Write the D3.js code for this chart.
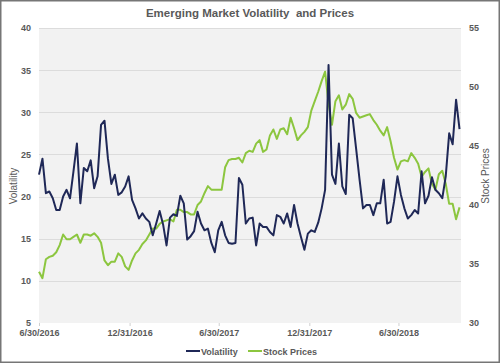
<!DOCTYPE html>
<html><head><meta charset="utf-8">
<script src="https://cdn.jsdelivr.net/npm/d3@7"></script>
<style>
body{margin:0;background:#fff;}
svg{display:block;font-family:"Liberation Sans",Arial,sans-serif;}
</style></head>
<body><svg id="chart" width="500" height="363"></svg>
<script>
const title = "Emerging Market Volatility  and Prices";
const seriesNames = ["Volatility", "Stock Prices"];
const startDate = "2016-06-30";
const endDate = "2018-11-04";
const xTickLabels = ["6/30/2016", "12/31/2016", "6/30/2017", "12/31/2017", "6/30/2018"];
const leftTicks = [5, 10, 15, 20, 25, 30, 35, 40];
const rightTicks = [30, 35, 40, 45, 50, 55];
// weekly observations starting 6/30/2016
const volatility = [
22.6,24.5,20.4,20.6,19.8,18.4,18.4,20.0,20.8,19.8,23.0,26.3,19.2,23.4,23.0,24.3,21.0,22.4,28.5,29.0,
24.5,21.5,22.6,20.2,20.5,21.2,22.4,19.6,18.6,17.4,18.0,17.4,17.0,15.4,16.8,18.3,16.7,14.2,17.5,17.9,
17.7,20.1,19.2,14.9,15.3,15.9,18.2,16.8,16.0,16.2,14.5,13.4,16.0,17.0,15.4,14.5,14.4,14.5,22.2,21.4,
16.8,17.4,17.5,14.2,16.8,16.4,16.4,15.8,15.4,17.8,17.6,16.8,18.0,16.4,19.0,16.8,15.2,13.7,15.6,16.0,
15.8,16.9,18.6,20.8,35.6,22.6,21.5,26.3,21.2,20.3,29.7,29.3,25.7,22.0,18.6,19.0,19.0,17.8,19.2,19.2,
22.0,16.8,17.0,19.4,22.4,20.2,18.6,17.4,17.8,18.4,18.0,23.0,19.2,20.1,22.3,20.8,20.4,19.8,22.4,27.5,
26.2,31.5,28.0];
const stockPrices = [
34.35,33.8,35.4,35.6,35.7,36.0,36.6,37.5,37.1,37.1,37.3,37.5,36.8,37.5,37.5,37.4,37.6,37.3,36.8,35.3,
34.9,35.2,35.2,35.9,35.6,34.8,34.5,35.3,35.9,36.2,36.7,37.0,37.5,38.0,38.0,38.4,38.6,38.7,38.8,38.6,
39.6,39.6,39.4,39.4,39.2,39.2,40.0,40.3,41.0,41.6,41.3,41.3,41.3,41.3,43.2,43.8,43.9,43.9,44.0,43.6,
44.4,44.6,44.5,45.2,45.5,44.5,44.7,45.9,46.4,45.6,46.4,46.5,46.0,47.4,46.5,45.5,45.9,46.2,46.6,48.0,
48.8,49.6,50.5,51.3,48.6,46.8,48.8,49.3,48.1,48.5,49.4,49.0,47.8,47.4,47.5,47.6,47.7,47.2,46.8,46.3,
45.9,46.6,45.4,44.0,43.0,43.7,43.8,43.7,44.4,44.0,43.5,42.4,42.8,43.1,41.8,41.3,42.6,42.9,41.8,40.1,
40.1,38.8,39.8];

const parse = d3.timeParse("%Y-%m-%d");
const parseTick = d3.timeParse("%m/%d/%Y");
const t0 = parse(startDate);
const dates = volatility.map((_, i) => d3.timeDay.offset(t0, 7 * i));

const svg = d3.select("#chart");
const W = 500, H = 363;
const m = {l: 39, r: 39, t: 28, b: 40};
const iw = W - m.l - m.r, ih = H - m.t - m.b;
const textCol = "#595959";
const volCol = "#1f2857", stkCol = "#8cc63f";

svg.append("rect").attr("x", 0.75).attr("y", 0.75).attr("width", W - 1.5).attr("height", H - 1.5)
  .attr("fill", "#fff").attr("stroke", "#767676").attr("stroke-width", 1.5);

const x = d3.scaleTime().domain([t0, parse(endDate)]).range([m.l, m.l + iw]);
const yL = d3.scaleLinear().domain([5, 40]).range([m.t + ih, m.t]);
const yR = d3.scaleLinear().domain([30, 55]).range([m.t + ih, m.t]);

svg.append("rect").attr("x", m.l).attr("y", m.t).attr("width", iw).attr("height", ih).attr("fill", "#f2f2f2");

// gridlines
svg.append("g").selectAll("line").data(leftTicks.slice(1)).join("line")
  .attr("x1", m.l).attr("x2", m.l + iw)
  .attr("y1", d => Math.round(yL(d)) + 0.5).attr("y2", d => Math.round(yL(d)) + 0.5)
  .attr("stroke", "#dcdcdc").attr("stroke-width", 1);

// left axis
const gL = svg.append("g").attr("transform", `translate(${m.l},0)`)
  .call(d3.axisLeft(yL).tickValues(leftTicks).tickSize(0).tickPadding(8));
gL.select(".domain").remove();
// right axis
const gR = svg.append("g").attr("transform", `translate(${m.l + iw},0)`)
  .call(d3.axisRight(yR).tickValues(rightTicks).tickSize(0).tickPadding(8));
gR.select(".domain").remove();
// bottom axis
const gB = svg.append("g").attr("transform", `translate(0,${m.t + ih})`)
  .call(d3.axisBottom(x).tickValues(xTickLabels.map(parseTick)).tickSize(3)
    .tickFormat((d, i) => xTickLabels[i]).tickPadding(4));
gB.select(".domain").remove();
gB.selectAll(".tick line").attr("stroke", "#d0d0d0");

svg.selectAll(".tick text").attr("fill", textCol).attr("font-size", 9).attr("font-weight", "bold")
  .attr("font-family", '"Liberation Sans",Arial,sans-serif');

// axis titles
svg.append("text").attr("transform", `translate(17,186) rotate(-90)`).attr("text-anchor", "middle")
  .attr("font-size", 10).attr("fill", textCol).text(seriesNames[0]);
svg.append("text").attr("transform", `translate(489,176) rotate(-90)`).attr("text-anchor", "middle")
  .attr("font-size", 10).attr("fill", textCol).text(seriesNames[1]);

// title
svg.append("text").attr("x", 250).attr("y", 17).attr("text-anchor", "middle")
  .attr("font-size", 11.5).attr("font-weight", "bold").attr("fill", textCol)
  .style("white-space", "pre").text(title);

// lines
const lineL = d3.line().x((d, i) => x(dates[i])).y(d => yL(d));
const lineR = d3.line().x((d, i) => x(dates[i])).y(d => yR(d));
svg.append("path").datum(stockPrices).attr("d", lineR).attr("fill", "none")
  .attr("stroke", stkCol).attr("stroke-width", 2).attr("stroke-linejoin", "round");
svg.append("path").datum(volatility).attr("d", lineL).attr("fill", "none")
  .attr("stroke", volCol).attr("stroke-width", 2).attr("stroke-linejoin", "round");

// legend
const legend = [{name: seriesNames[0], c: volCol, x: 186}, {name: seriesNames[1], c: stkCol, x: 248}];
const lg = svg.append("g").selectAll("g").data(legend).join("g").attr("transform", d => `translate(${d.x},351)`);
lg.append("line").attr("x1", 0).attr("x2", 14).attr("stroke", d => d.c).attr("stroke-width", 2);
lg.append("text").attr("x", 15).attr("y", 3.5).attr("font-size", 9).attr("font-weight", "bold")
  .attr("fill", textCol).text(d => d.name);
</script></body></html>
